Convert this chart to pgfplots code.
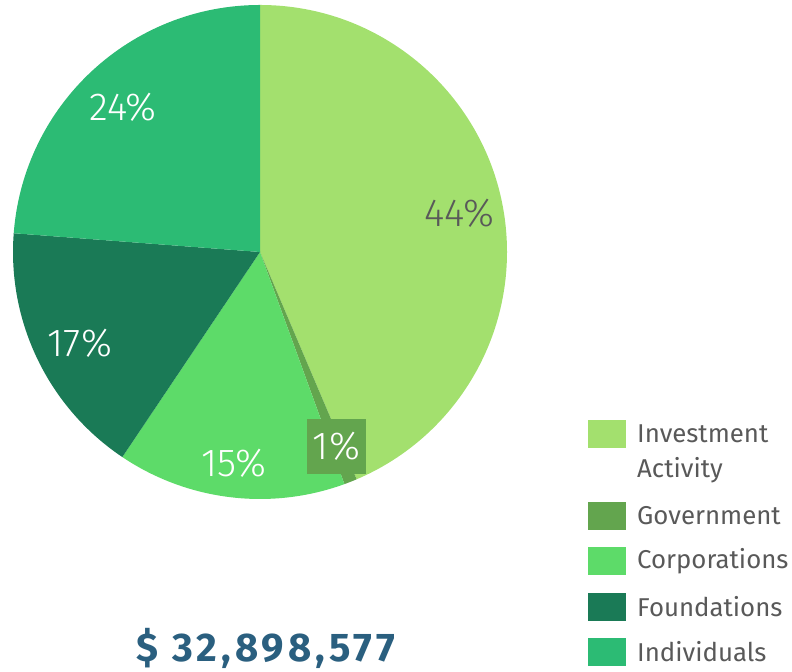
\documentclass[border=0pt]{standalone}
\usepackage{pgfplots}
\usepackage{pgfplotstable}
\pgfplotsset{compat=1.18}
\usepackage{fontspec}
\setmainfont{Fira Sans}
\newfontfamily\lightfont{Fira Sans Light}
\usepackage{xcolor}
\definecolor{pie0}{HTML}{A3E06E}
\definecolor{pie1}{HTML}{63A54E}
\definecolor{pie2}{HTML}{5DDB69}
\definecolor{pie3}{HTML}{1A7A56}
\definecolor{pie4}{HTML}{2CBB74}
\definecolor{labgrey}{HTML}{595959}
\definecolor{totalblue}{HTML}{2A5F7F}

% share of each source, percent
\pgfplotstableread{
source value
Investment 43.6
Government 0.85
Corporations 14.96
Foundations 16.8
Individuals 23.79
}\piedata

% start / end angle of each slice, clockwise from the top
\def\cumangle{90}
\pgfplotsforeachungrouped \i in {0,...,4}{%
  \pgfplotstablegetelem{\i}{value}\of\piedata
  \pgfmathsetmacro\endangle{\cumangle-3.6*\pgfplotsretval}%
  \expandafter\xdef\csname sa\i\endcsname{\cumangle}%
  \expandafter\xdef\csname ea\i\endcsname{\endangle}%
  \xdef\cumangle{\endangle}%
}

\begin{document}
\begin{tikzpicture}
\begin{axis}[
  scale only axis, width=792pt, height=670pt,
  xmin=0, xmax=792, ymin=0, ymax=670,
  hide axis, clip=false,
]
\path (axis cs:0,0) (axis cs:792,670);
\pgfplotsinvokeforeach{0,...,4}{
  \fill[pie#1] (axis cs:260,418) -- ++(\csname sa#1\endcsname:247pt)
    arc[start angle=\csname sa#1\endcsname, end angle=\csname ea#1\endcsname, radius=247pt] -- cycle;
}
% slice labels
\node[text=labgrey, font=\lightfont\fontsize{39}{40}\selectfont] at (axis cs:459,457) {44\%};
\node[text=white, font=\lightfont\fontsize{39}{40}\selectfont] at (axis cs:123,563) {24\%};
\node[text=white, font=\lightfont\fontsize{39}{40}\selectfont] at (axis cs:80,327) {17\%};
\node[text=white, font=\lightfont\fontsize{39}{40}\selectfont] at (axis cs:234,207) {15\%};
\node[fill=pie1, text=white, minimum width=59pt, minimum height=55pt, inner sep=0pt,
  font=\lightfont\fontsize{39}{40}\selectfont] at (axis cs:336.5,223.5) {1\%};
% legend
\fill[pie0] (axis cs:588,222) rectangle (axis cs:626,250);
\fill[pie1] (axis cs:588,140) rectangle (axis cs:626,168);
\fill[pie2] (axis cs:588,95) rectangle (axis cs:626,123);
\fill[pie3] (axis cs:588,49) rectangle (axis cs:626,77);
\fill[pie4] (axis cs:588,4) rectangle (axis cs:626,32);
\begin{scope}[every node/.style={anchor=west, text=labgrey, inner sep=0pt,
  font=\fontsize{25.8}{30}\selectfont}]
\node at (axis cs:637,236) {Investment};
\node at (axis cs:637,200) {Activity};
\node at (axis cs:637,154) {Government};
\node at (axis cs:637,109) {Corporations};
\node at (axis cs:637,63) {Foundations};
\node at (axis cs:637,18) {Individuals};
\end{scope}
% total
\node[text=totalblue, font=\bfseries\fontsize{40}{44}\selectfont\addfontfeatures{LetterSpace=10}] at (axis cs:266,22) {\$ 32,898,577};
\end{axis}
\end{tikzpicture}
\end{document}
